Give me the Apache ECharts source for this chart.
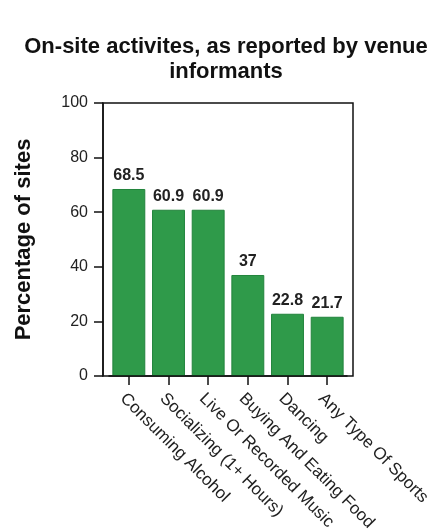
<!DOCTYPE html>
<html><head><meta charset="utf-8">
<script src="https://cdn.jsdelivr.net/npm/echarts@6/dist/echarts.min.js"></script>
<style>html,body{margin:0;padding:0;background:#fff}#c{width:446px;height:529px}</style>
</head><body><div id="c"></div>
<script>
const categories = ['Consuming Alcohol','Socializing (1+ Hours)','Live Or Recorded Music','Buying And Eating Food','Dancing','Any Type Of Sports'];
const values = [68.5, 60.9, 60.9, 37, 22.8, 21.7];
const yTicks = [0, 20, 40, 60, 80, 100];

const FONT = '"Liberation Sans", Arial, Helvetica, sans-serif';
const chart = echarts.init(document.getElementById('c'), null, {renderer:'canvas'});
chart.setOption({
  animation: false,
  backgroundColor: '#fff',
  title: {
    text: 'On-site activites, as reported by venue\ninformants',
    left: 221, top: 29, textAlign: 'center',
    textStyle: {fontFamily: FONT, fontSize: 22, fontWeight: 'bold', color: '#111', lineHeight: 25, align: 'center'}
  },
  grid: {left: 109, right: 99, top: 103, bottom: 153, containLabel: false, outerBoundsMode: 'none'},
  graphic: [{
    type: 'rect', shape: {x: 103, y: 103, width: 250, height: 273},
    style: {fill: 'none', stroke: '#111', lineWidth: 1.5}, silent: true, z: 10
  }],
  xAxis: {
    type: 'category', data: categories,
    axisLine: {show: true, lineStyle: {color: '#111', width: 1.5}},
    axisTick: {show: true, alignWithLabel: true, length: 9, lineStyle: {color: '#111', width: 1.5}},
    axisLabel: {rotate: -45, interval: 0, margin: 14, verticalAlign: 'top', align: 'left',
      fontFamily: FONT, fontSize: 17, color: '#222'}
  },
  yAxis: {
    type: 'value', min: 0, max: 100, interval: 20, offset: 6,
    name: 'Percentage of sites', nameLocation: 'middle', nameGap: 68,
    nameTextStyle: {fontFamily: FONT, fontSize: 22, fontWeight: 'bold', color: '#111'},
    splitLine: {show: false},
    axisLine: {show: true, lineStyle: {color: '#111', width: 1.5}},
    axisTick: {show: true, length: 9, lineStyle: {color: '#111', width: 1.5}},
    axisLabel: {margin: 15, fontFamily: FONT, fontSize: 16, color: '#222',
      formatter: v => yTicks.includes(v) ? String(v) : ''}
  },
  series: [{
    type: 'bar', data: values, barCategoryGap: '17%',
    itemStyle: {color: '#2f9a4a', borderColor: '#22843c', borderWidth: 1},
    label: {show: true, position: 'top', distance: 5, fontFamily: FONT, fontSize: 16, fontWeight: 'bold', color: '#222'}
  }]
});
</script></body></html>
